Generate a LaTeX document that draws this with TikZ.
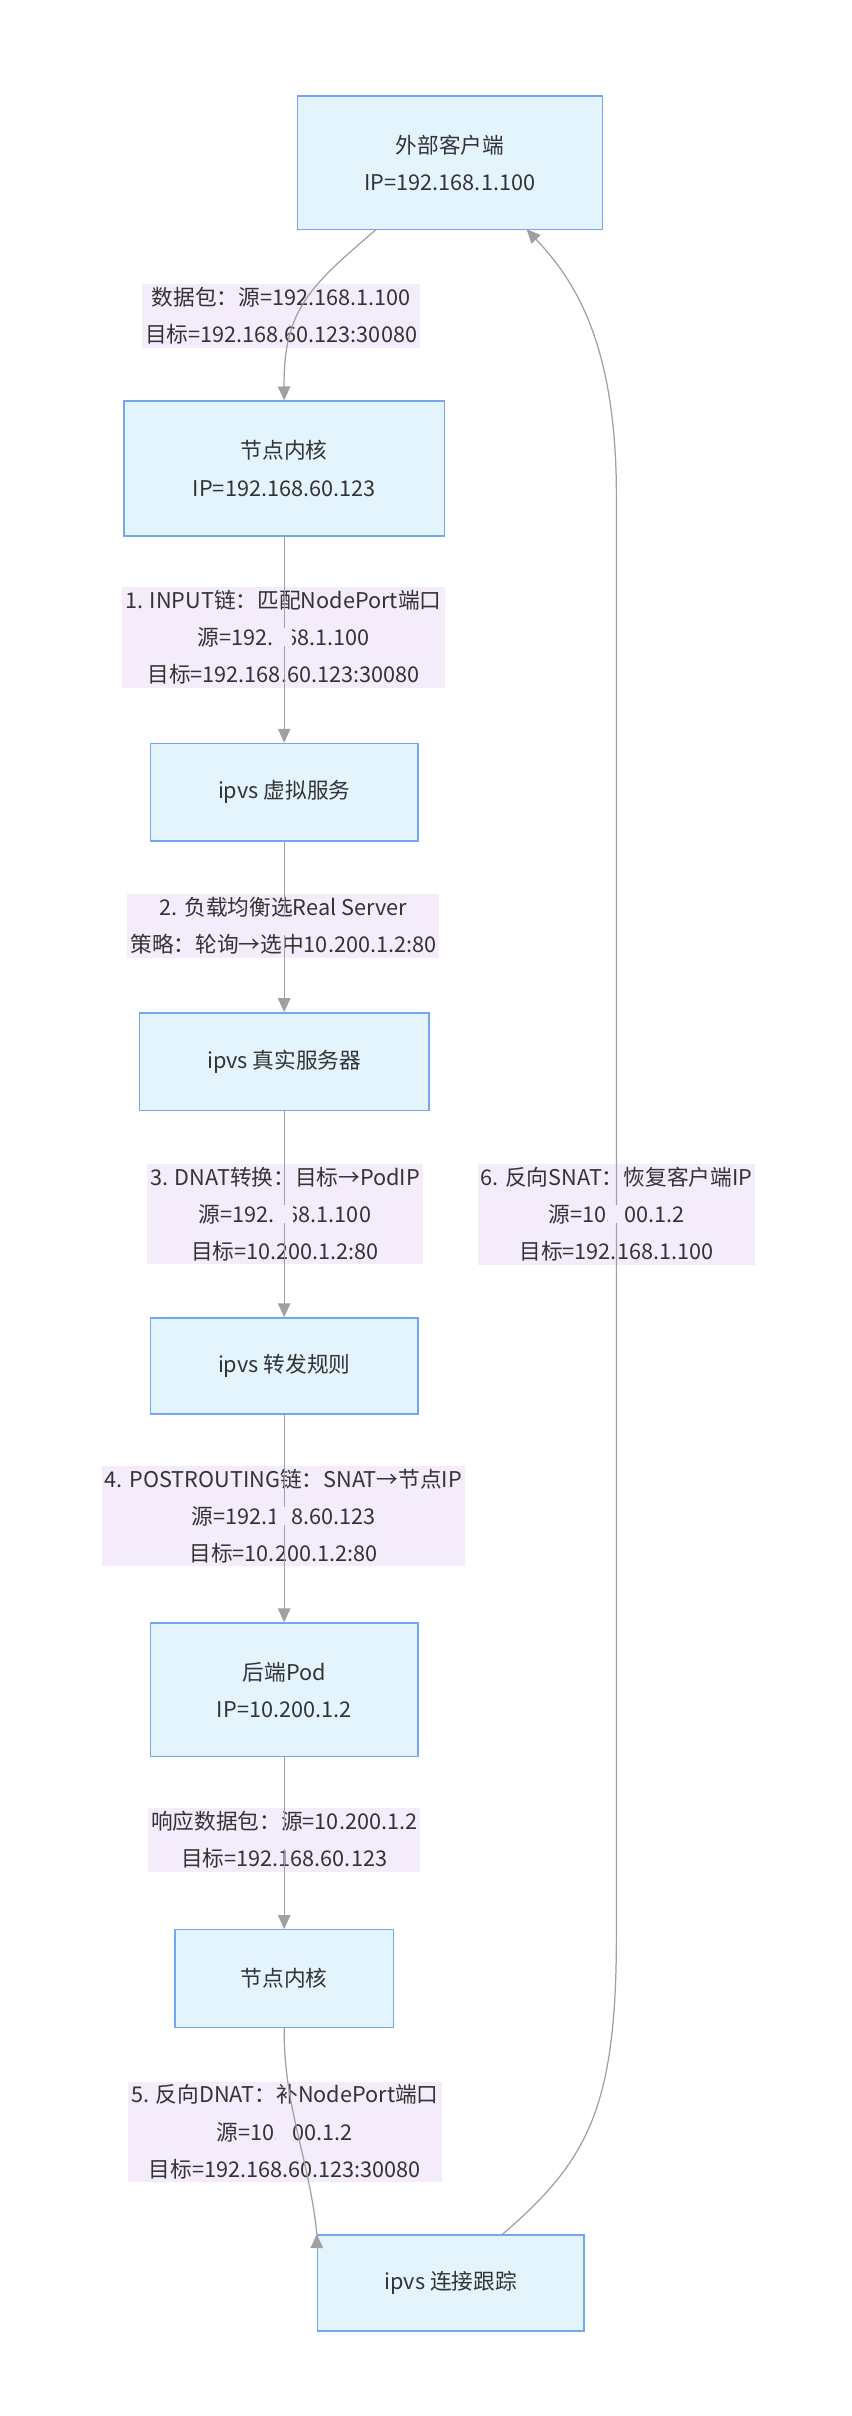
\documentclass[tikz,border=0pt]{standalone}
\usepackage{fontspec}
\setmainfont{Noto Sans CJK SC}
\usetikzlibrary{arrows.meta}
\definecolor{boxfill}{HTML}{E3F4FD}
\definecolor{boxline}{HTML}{74A7F2}
\definecolor{lblfill}{HTML}{F4ECFB}
\definecolor{edgegray}{HTML}{A0A0A0}
\definecolor{txt}{HTML}{333333}
\tikzset{
  box/.style={draw=boxline, fill=boxfill, line width=0.9pt, minimum width=#1, align=center, text=txt, font=\fontsize{14}{24}\selectfont},
  lbl/.style={fill=lblfill, inner sep=2pt, align=center, text=txt, font=\fontsize{14}{24}\selectfont},
  flow/.style={draw=edgegray, line width=0.8pt, -{Triangle[length=9pt,width=8pt,fill=edgegray]}}
}
\begin{document}
\begin{tikzpicture}[x=1pt,y=-1pt]
  \useasboundingbox (0,0) rectangle (550,1560);
  % nodes
  \node[box=197pt, minimum height=86pt] (client) at (290.5,105) {外部客户端\\IP=192.168.1.100};
  \node[box=207pt, minimum height=87pt] (kern) at (183.5,302.5) {节点内核\\IP=192.168.60.123};
  \node[box=173pt, minimum height=63pt] (vs) at (183.5,511.5) {ipvs 虚拟服务};
  \node[box=187pt, minimum height=63pt] (rs) at (183.5,685.5) {ipvs 真实服务器};
  \node[box=173pt, minimum height=62pt] (fwd) at (183.5,882) {ipvs 转发规则};
  \node[box=173pt, minimum height=86pt] (pod) at (183.5,1091) {后端Pod\\IP=10.200.1.2};
  \node[box=141pt, minimum height=63pt] (kern2) at (183.5,1277.5) {节点内核};
  \node[box=172pt, minimum height=62pt] (ct) at (291,1474) {ipvs 连接跟踪};
  % edge labels
  \node[lbl] (l0) at (181.5,204) {数据包：源=192.168.1.100\\目标=192.168.60.123:30080};
  \node[lbl] (l1) at (183,411.5) {1. INPUT链：匹配NodePort端口\\源=192.168.1.100\\目标=192.168.60.123:30080};
  \node[lbl] (l2) at (183,598) {2. 负载均衡选Real Server\\策略：轮询→选中10.200.1.2:80};
  \node[lbl] (l3) at (184,784) {3. DNAT转换：目标→PodIP\\源=192.168.1.100\\目标=10.200.1.2:80};
  \node[lbl] (l4) at (183,979) {4. POSTROUTING链：SNAT→节点IP\\源=192.168.60.123\\目标=10.200.1.2:80};
  \node[lbl] (l5) at (183.5,1188) {响应数据包：源=10.200.1.2\\目标=192.168.60.123};
  \node[lbl] (l6) at (184,1376.5) {5. 反向DNAT：补NodePort端口\\源=10.200.1.2\\目标=192.168.60.123:30080};
  \node[lbl] (l7) at (398,784) {6. 反向SNAT：恢复客户端IP\\源=10.200.1.2\\目标=192.168.1.100};
  % connectors
  \begin{scope}[on background layer/.style={}]
  \draw[flow] (client.south west) ++(51,0) coordinate (c0) (c0) .. controls (200,185) and (183,200) .. (kern.north);
  \draw[flow] (kern) -- (vs);
  \draw[flow] (vs) -- (rs);
  \draw[flow] (rs) -- (fwd);
  \draw[flow] (fwd) -- (pod);
  \draw[flow] (pod) -- (kern2);
  \draw[flow] (kern2.south) .. controls (183,1360) and (200,1395) .. (ct.north west) ++(0,0);
  \draw[flow] (ct.north west) ++(120,0) coordinate (c1) (c1) .. controls (380,1395) and (398,1360) .. (398,1250) -- (398,320) .. controls (398,220) and (370,180) .. (340,148);
  \end{scope}
  \foreach \l in {l0,l1,l2,l3,l4,l5,l6,l7} \node[lbl] at (\l) {\phantom{x}};
\end{tikzpicture}
\end{document}
